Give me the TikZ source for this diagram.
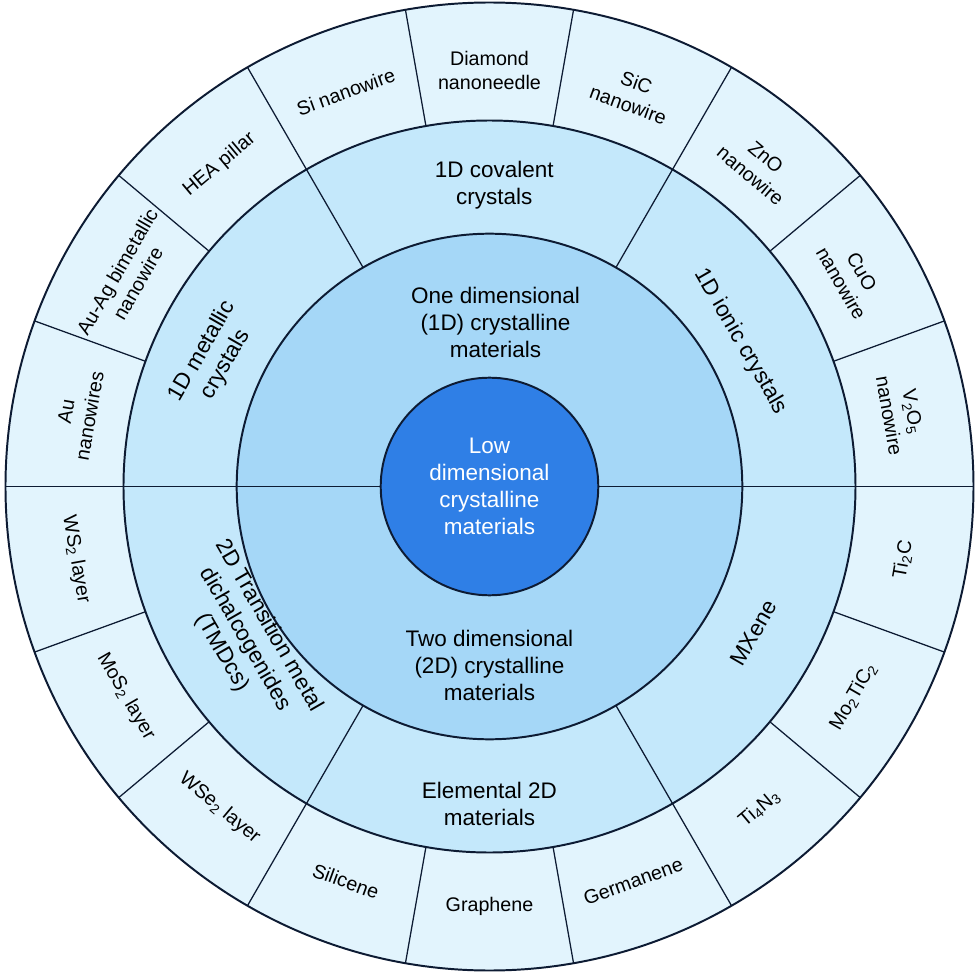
\documentclass[tikz,border=0pt]{standalone}
\usepackage{fontspec}
\setmainfont{Liberation Sans}
\usepackage{tikz}

\definecolor{coreblue}{HTML}{2F7FE6}
\definecolor{ringone}{HTML}{A5D7F7}
\definecolor{ringtwo}{HTML}{C4E8FB}
\definecolor{ringthree}{HTML}{E2F4FD}
\definecolor{edgeline}{HTML}{0D1B33}

\begin{document}
\begin{tikzpicture}[scale=1.0,
		rim/.style = {draw = edgeline, line width = 1.4pt},
		spoke/.style = {draw = edgeline, line width = 0.9pt},
		outerlbl/.style = {align = center, font = \fontsize{14}{17}\selectfont},
		midlbl/.style = {align = center, font = \fontsize{16}{19.2}\selectfont}]
		\useasboundingbox (-12.2375, -12.1625) rectangle (12.2625, 12.1625);
		\fill [ringthree] (0, 0) circle (12.1);
		\fill [ringtwo] (0, 0) circle (9.15);
		\fill [ringone] (0, 0) circle (6.32);
		\draw [spoke] (20:9.15) -- (20:12.1) (40:9.15) -- (40:12.1) (60:9.15) -- (60:12.1)
			(80:9.15) -- (80:12.1) (100:9.15) -- (100:12.1) (120:9.15) -- (120:12.1)
			(140:9.15) -- (140:12.1) (160:9.15) -- (160:12.1);
		\draw [spoke] (200:9.15) -- (200:12.1) (220:9.15) -- (220:12.1) (240:9.15) -- (240:12.1)
			(260:9.15) -- (260:12.1) (280:9.15) -- (280:12.1) (300:9.15) -- (300:12.1)
			(320:9.15) -- (320:12.1) (340:9.15) -- (340:12.1);
		\draw [spoke] (60:6.32) -- (60:9.15) (120:6.32) -- (120:9.15)
			(240:6.32) -- (240:9.15) (300:6.32) -- (300:9.15);
		\draw [spoke] (-12.1, 0) -- (12.1, 0);
		\draw [rim] (0, 0) circle (12.1);
		\draw [rim] (0, 0) circle (9.15);
		\draw [rim] (0, 0) circle (6.32);
		\fill [coreblue, rim] (0, 0) circle (2.72);
		\node (core) at (0, 0) [midlbl, text = white] {Low\\dimensional\\crystalline\\materials};
		\node (oned) at (0.15, 4.1) [midlbl] {One dimensional\\(1D) crystalline\\materials};
		\node (twod) at (0, -4.47) [midlbl] {Two dimensional\\(2D) crystalline\\materials};
		\node (metallic) at (155:7.6) [midlbl, rotate = 60] {1D metallic\\crystals};
		\node (covalent) at (0.12, 7.53) [midlbl] {1D covalent\\crystals};
		\node (ionic) at (30:7.25) [midlbl, rotate = -60] {1D ionic crystals};
		\node (tmdc) at (212:7.2) [midlbl, rotate = -60] {2D Transition metal\\dichalcogenides\\(TMDcs)};
		\node (elemental) at (0, -7.93) [midlbl] {Elemental 2D\\materials};
		\node (mxene) at (-29:7.55) [midlbl, rotate = 60] {MXene};
		\node (vtwo) at (10:10.45) [outerlbl, rotate = -80] {V\textsubscript{2}O\textsubscript{5}\\nanowire};
		\node (cuo) at (30:10.45) [outerlbl, rotate = -60] {CuO\\nanowire};
		\node (zno) at (50:10.45) [outerlbl, rotate = -40] {ZnO\\nanowire};
		\node (sic) at (70:10.45) [outerlbl, rotate = -20] {SiC\\nanowire};
		\node (diamond) at (90:10.4) [outerlbl] {Diamond\\nanoneedle};
		\node (si) at (110:10.5) [outerlbl, rotate = 20] {Si nanowire};
		\node (hea) at (130:10.5) [outerlbl, rotate = 40] {HEA pillar};
		\node (auag) at (150:10.45) [outerlbl, rotate = 60] {Au-Ag bimetallic\\nanowire};
		\node (au) at (170:10.45) [outerlbl, rotate = 80] {Au\\nanowires};
		\node (wstwo) at (190:10.5) [outerlbl, rotate = -80] {WS\textsubscript{2} layer};
		\node (mostwo) at (210:10.5) [outerlbl, rotate = -60] {MoS\textsubscript{2} layer};
		\node (wsetwo) at (230:10.5) [outerlbl, rotate = -40] {WSe\textsubscript{2} layer};
		\node (silicene) at (250:10.5) [outerlbl, rotate = -20] {Silicene};
		\node (graphene) at (270:10.5) [outerlbl] {Graphene};
		\node (germanene) at (290:10.5) [outerlbl, rotate = 20] {Germanene};
		\node (tifour) at (310:10.5) [outerlbl, rotate = 40] {Ti\textsubscript{4}N\textsubscript{3}};
		\node (motic) at (330:10.5) [outerlbl, rotate = 60] {Mo\textsubscript{2}TiC\textsubscript{2}};
		\node (titwo) at (350:10.5) [outerlbl, rotate = 80] {Ti\textsubscript{2}C};
	\end{tikzpicture}
\end{document}
